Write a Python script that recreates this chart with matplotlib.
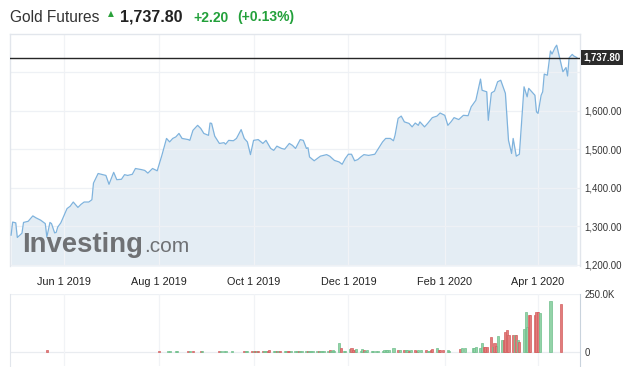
import matplotlib
matplotlib.use("Agg")
import matplotlib.pyplot as plt
import matplotlib.dates as mdates
import pandas as pd

# ---------------- data ----------------
price_dates = [
    "2019-04-28", "2019-04-29", "2019-05-01", "2019-05-02", "2019-05-05", "2019-05-06", "2019-05-09",
    "2019-05-12", "2019-05-14", "2019-05-17", "2019-05-20", "2019-05-21", "2019-05-23", "2019-05-24",
    "2019-05-26", "2019-05-27", "2019-05-28", "2019-05-30",
    "2019-06-03", "2019-06-05", "2019-06-07", "2019-06-10", "2019-06-12", "2019-06-14", "2019-06-17",
    "2019-06-19", "2019-06-20", "2019-06-23", "2019-06-26", "2019-06-28", "2019-06-30",
    "2019-07-03", "2019-07-05", "2019-07-08", "2019-07-10", "2019-07-12", "2019-07-15", "2019-07-17",
    "2019-07-21", "2019-07-23", "2019-07-25", "2019-07-28", "2019-07-31",
    "2019-08-03", "2019-08-06", "2019-08-08", "2019-08-10", "2019-08-12", "2019-08-14", "2019-08-16",
    "2019-08-20", "2019-08-21", "2019-08-23", "2019-08-26", "2019-08-28", "2019-08-30",
    "2019-09-02", "2019-09-03", "2019-09-04", "2019-09-06", "2019-09-09", "2019-09-12", "2019-09-13",
    "2019-09-15", "2019-09-18", "2019-09-20", "2019-09-23", "2019-09-25", "2019-09-27", "2019-09-29",
    "2019-10-01", "2019-10-04", "2019-10-07", "2019-10-09", "2019-10-12", "2019-10-14", "2019-10-16",
    "2019-10-19", "2019-10-21", "2019-10-24", "2019-10-26", "2019-10-28", "2019-10-31",
    "2019-11-02", "2019-11-04", "2019-11-05", "2019-11-06", "2019-11-09", "2019-11-11", "2019-11-13",
    "2019-11-17", "2019-11-19", "2019-11-22", "2019-11-25", "2019-11-27", "2019-11-29",
    "2019-12-01", "2019-12-03", "2019-12-05", "2019-12-07", "2019-12-09", "2019-12-11", "2019-12-14",
    "2019-12-18", "2019-12-21", "2019-12-23", "2019-12-25", "2019-12-28", "2019-12-30", "2019-12-31",
    "2020-01-02", "2020-01-04", "2020-01-06", "2020-01-09", "2020-01-11", "2020-01-13", "2020-01-15",
    "2020-01-16", "2020-01-19", "2020-01-21", "2020-01-24", "2020-01-27", "2020-01-29",
    "2020-02-01", "2020-02-03", "2020-02-05", "2020-02-07", "2020-02-10", "2020-02-13", "2020-02-16",
    "2020-02-18", "2020-02-21", "2020-02-24", "2020-02-25", "2020-02-28", "2020-02-29",
    "2020-03-02", "2020-03-04", "2020-03-06", "2020-03-08", "2020-03-11", "2020-03-13", "2020-03-15",
    "2020-03-16", "2020-03-18", "2020-03-20", "2020-03-23", "2020-03-25", "2020-03-26", "2020-03-28",
    "2020-03-30", "2020-03-31",
    "2020-04-01", "2020-04-03", "2020-04-04", "2020-04-05", "2020-04-07", "2020-04-09", "2020-04-10",
    "2020-04-12", "2020-04-13", "2020-04-15", "2020-04-17", "2020-04-19", "2020-04-20", "2020-04-21",
    "2020-04-23", "2020-04-24", "2020-04-26",
]
price_values = [
    1277, 1311, 1309, 1271, 1282, 1310, 1313, 1327, 1322, 1316, 1307, 1272, 1310, 1307, 1283, 1284, 1298, 1309,
    1346, 1352, 1363, 1349, 1357, 1363, 1363, 1369, 1412, 1437, 1434, 1432, 1409,
    1440, 1421, 1422, 1434, 1432, 1435, 1450, 1447, 1445, 1438, 1450, 1444,
    1484, 1528, 1519, 1528, 1532, 1541, 1528, 1525, 1523, 1549, 1562, 1554, 1541,
    1536, 1568, 1567, 1534, 1515, 1517, 1513, 1523, 1522, 1528, 1551, 1528, 1519, 1486,
    1523, 1525, 1515, 1523, 1502, 1497, 1508, 1502, 1500, 1515, 1510, 1502, 1525,
    1523, 1502, 1504, 1480, 1470, 1476, 1482, 1486, 1482, 1471, 1467, 1461, 1476,
    1487, 1487, 1470, 1473, 1480, 1486, 1484, 1487, 1506, 1519, 1528, 1528, 1522, 1536,
    1580, 1586, 1571, 1567, 1558, 1568, 1562, 1571, 1558, 1567, 1582, 1586, 1594,
    1588, 1562, 1571, 1582, 1577, 1588, 1587, 1610, 1627, 1682, 1653, 1649, 1575,
    1646, 1651, 1675, 1679, 1645, 1523, 1489, 1528, 1482, 1487, 1662, 1636, 1658, 1649, 1640, 1597,
    1593, 1640, 1649, 1695, 1692, 1755, 1747, 1764, 1770, 1736, 1701, 1712, 1690, 1737, 1746, 1742, 1737.8,
]
last_price = 1737.80

# volume in thousands, one value per business day starting 2019-08-01
vol_start = "2019-08-01"
vol_aug = [3, 0, 0, 0, 3, 3, 0, 3, 3, 0, 0, 0, 0, 3, 3, 0, 3, 0, 0, 3, 3, 0]
vol_sep = [0, 0, 0, 0, 0, 3, 3, 0, 3, 3, 0, 3, 0, 0, 0, 0, 0, 3, 3, 4, 4]
vol_oct = [4, 5, 4, 5, 4, 6, 5, 5, 10, 6, 5, 5, 4, 5, 6, 5, 4, 5, 6, 5, 5, 4, 5]
vol_nov = [5, 5, 4, 5, 5, 6, 5, 5, 4, 5, 5, 5, 8, 6, 8, 4, 41, 16, 0, 4, 4]
vol_dec = [12, 16, 7, 9, 12, 4, 12, 7, 4, 7, 4, 4, 0, 4, 4, 4, 9, 9, 9, 9, 18, 0]
vol_jan = [0, 9, 9, 7, 9, 9, 4, 7, 9, 4, 9, 0, 9, 9, 4, 4, 9, 13, 18, 9, 7, 0, 9]
vol_feb = [9, 4, 0, 0, 0, 0, 13, 18, 0, 18, 0, 0, 16, 16, 22, 16, 41, 22, 22, 22]
vol_mar = [64, 20, 37, 26, 70, 51, 53, 88, 96, 75, 75, 75, 75, 51, 45, 100, 174, 107, 158, 158, 158, 174]
vol_apr = [174, 167, 0, 0, 0, 0, 218, 0, 0, 0, 0, 206, 0, 0, 0, 0, 0, 0, 0]
dir_aug = "rgrgggrggrgrgrggrggrgg"
dir_sep = "ggrggrgrggrgrggrgrggr"
dir_oct = "grgrrggrrggrgrggrrgggrg"
dir_nov = "ggrggggrggggrggggrggg"
dir_dec = "grrrgggrgggggggggggggg"
dir_jan = "grgrggrgrrgggrggrrgrrgr"
dir_feb = "ggggggrggggggggggrrr"
dir_mar = "rgrrggrrrrrgrgrgggrrrr"
dir_apr = "rggggggggggrggggggg"
early_vol_dates = ["2019-05-21"]
early_vol = [10]
early_dir = "r"

x_ticks = ["2019-06-01", "2019-08-01", "2019-10-01", "2019-12-01", "2020-02-01", "2020-04-01"]
x_labels = ["Jun 1 2019", "Aug 1 2019", "Oct 1 2019", "Dec 1 2019", "Feb 1 2020", "Apr 1 2020"]
price_ticks = [1200, 1300, 1400, 1500, 1600, 1700]
price_labels = ["1,200.00", "1,300.00", "1,400.00", "1,500.00", "1,600.00", ""]
vol_ticks = [0, 250]
vol_labels = ["0", "250.0K"]

# ---------------- figure ----------------
plt.rcParams['font.family'] = ['Liberation Sans', 'DejaVu Sans']
W, H = 638, 367
fig = plt.figure(figsize=(W / 100, H / 100), dpi=100)
fig.patch.set_facecolor('white')


def fx(px):
    return px / W


def fy(py):
    return 1 - py / H


ax = fig.add_axes([fx(10), fy(266), fx(580) - fx(10), fy(34) - fy(266)])
axv = fig.add_axes([fx(10), fy(366), fx(580) - fx(10), fy(294) - fy(366)])

pd_dates = pd.to_datetime(price_dates)
ymin, ymax = 1197, 1799
ax.fill_between(pd_dates, price_values, ymin, color='#e4edf4', lw=0, zorder=1)
ax.plot(pd_dates, price_values, color='#7fb3dd', lw=0.9, zorder=3)
ax.axhline(last_price, color='#262626', lw=1.0, zorder=4)
ax.set_ylim(ymin, ymax)

jun1 = mdates.date2num(pd.Timestamp("2019-06-01"))
xl = (jun1 - 34.7, jun1 + 332.0)
for a in (ax, axv):
    a.set_xlim(xl)
    a.set_xticks([mdates.date2num(pd.Timestamp(d)) for d in x_ticks])
    a.grid(axis='x', color='#f1f3f6', lw=0.9, zorder=0)
    a.set_facecolor('none')

ax.set_xticklabels(x_labels)
ax.tick_params(axis='x', length=0, pad=7.8, labelsize=7.8, colors='#222222')
axv.tick_params(axis='x', length=0, labelbottom=False)

ax.yaxis.tick_right()
ax.set_yticks(price_ticks)
ax.set_yticklabels(price_labels)
ax.tick_params(axis='y', length=0, pad=3, labelsize=6.9, colors='#333333')
ax.grid(axis='y', color='#eef1f5', lw=0.9, zorder=0)

for s in ('top', 'left', 'right'):
    ax.spines[s].set_color('#e2e6ec')
    ax.spines[s].set_linewidth(1.0)
ax.spines['bottom'].set_visible(False)

ax.annotate(f"{last_price:,.2f}", xy=(1.0, last_price), xycoords=('axes fraction', 'data'),
            xytext=(2.6, 0), textcoords='offset points', ha='left', va='center',
            color='white', fontsize=6.9, fontweight='bold',
            bbox=dict(boxstyle='square,pad=0.28', fc='#2b2b2b', ec='none'), zorder=6,
            annotation_clip=False)

# watermark
fig.text(fx(22), fy(252.5), "Investing", fontsize=19.8, fontweight='bold', color='#6f7174',
         ha='left', va='baseline', zorder=5)
fig.text(fx(144), fy(252.5), ".com", fontsize=15, color='#6f7174', ha='left', va='baseline', zorder=5)

# volume
vol_vals = vol_aug + vol_sep + vol_oct + vol_nov + vol_dec + vol_jan + vol_feb + vol_mar + vol_apr
vol_dirs = dir_aug + dir_sep + dir_oct + dir_nov + dir_dec + dir_jan + dir_feb + dir_mar + dir_apr
vol_days = list(pd.bdate_range(vol_start, periods=len(vol_vals)))
vol_days = list(pd.to_datetime(early_vol_dates)) + vol_days
vol_vals = early_vol + vol_vals
vol_dirs = early_dir + vol_dirs

face = {'g': '#93d3a8', 'r': '#e27c7c'}
edge = {'g': '#6fbf8c', 'r': '#d45f5f'}
for d, v, c in zip(vol_days, vol_vals, vol_dirs):
    if v > 0:
        axv.bar(d, v, width=1.35, color=face[c], edgecolor=edge[c], lw=0.5, zorder=3)

axv.set_ylim(-60, 250)
axv.axhline(0, color='#e9ecf0', lw=0.9, zorder=1)
axv.axhline(250, color='#eef1f5', lw=0.9, zorder=1)
axv.yaxis.tick_right()
axv.set_yticks(vol_ticks)
axv.set_yticklabels(vol_labels)
axv.tick_params(axis='y', length=0, pad=3.5, labelsize=6.9, colors='#333333')
axv.spines['top'].set_visible(False)
axv.spines['bottom'].set_visible(False)
axv.spines['left'].set_color('#e2e6ec')
axv.spines['right'].set_color('#c9d3dd')

# title
fig.text(fx(10), fy(21.5), "Gold Futures", fontsize=11.2, color='#333333', ha='left', va='baseline')
fig.text(fx(107.5), fy(16), "\u25B2", fontsize=5.5, color='#2aa13a', ha='left', va='baseline',
         family='DejaVu Sans')
fig.text(fx(120), fy(21.5), "1,737.80", fontsize=11.5, fontweight='bold', color='#222222',
         ha='left', va='baseline')
fig.text(fx(193), fy(21.5), "+2.20", fontsize=10, fontweight='bold', color='#22a03a',
         ha='left', va='baseline')
fig.text(fx(237), fy(21.5), "(+0.13%)", fontsize=10, fontweight='bold', color='#22a03a',
         ha='left', va='baseline')

fig.savefig("out.png", dpi=100)
